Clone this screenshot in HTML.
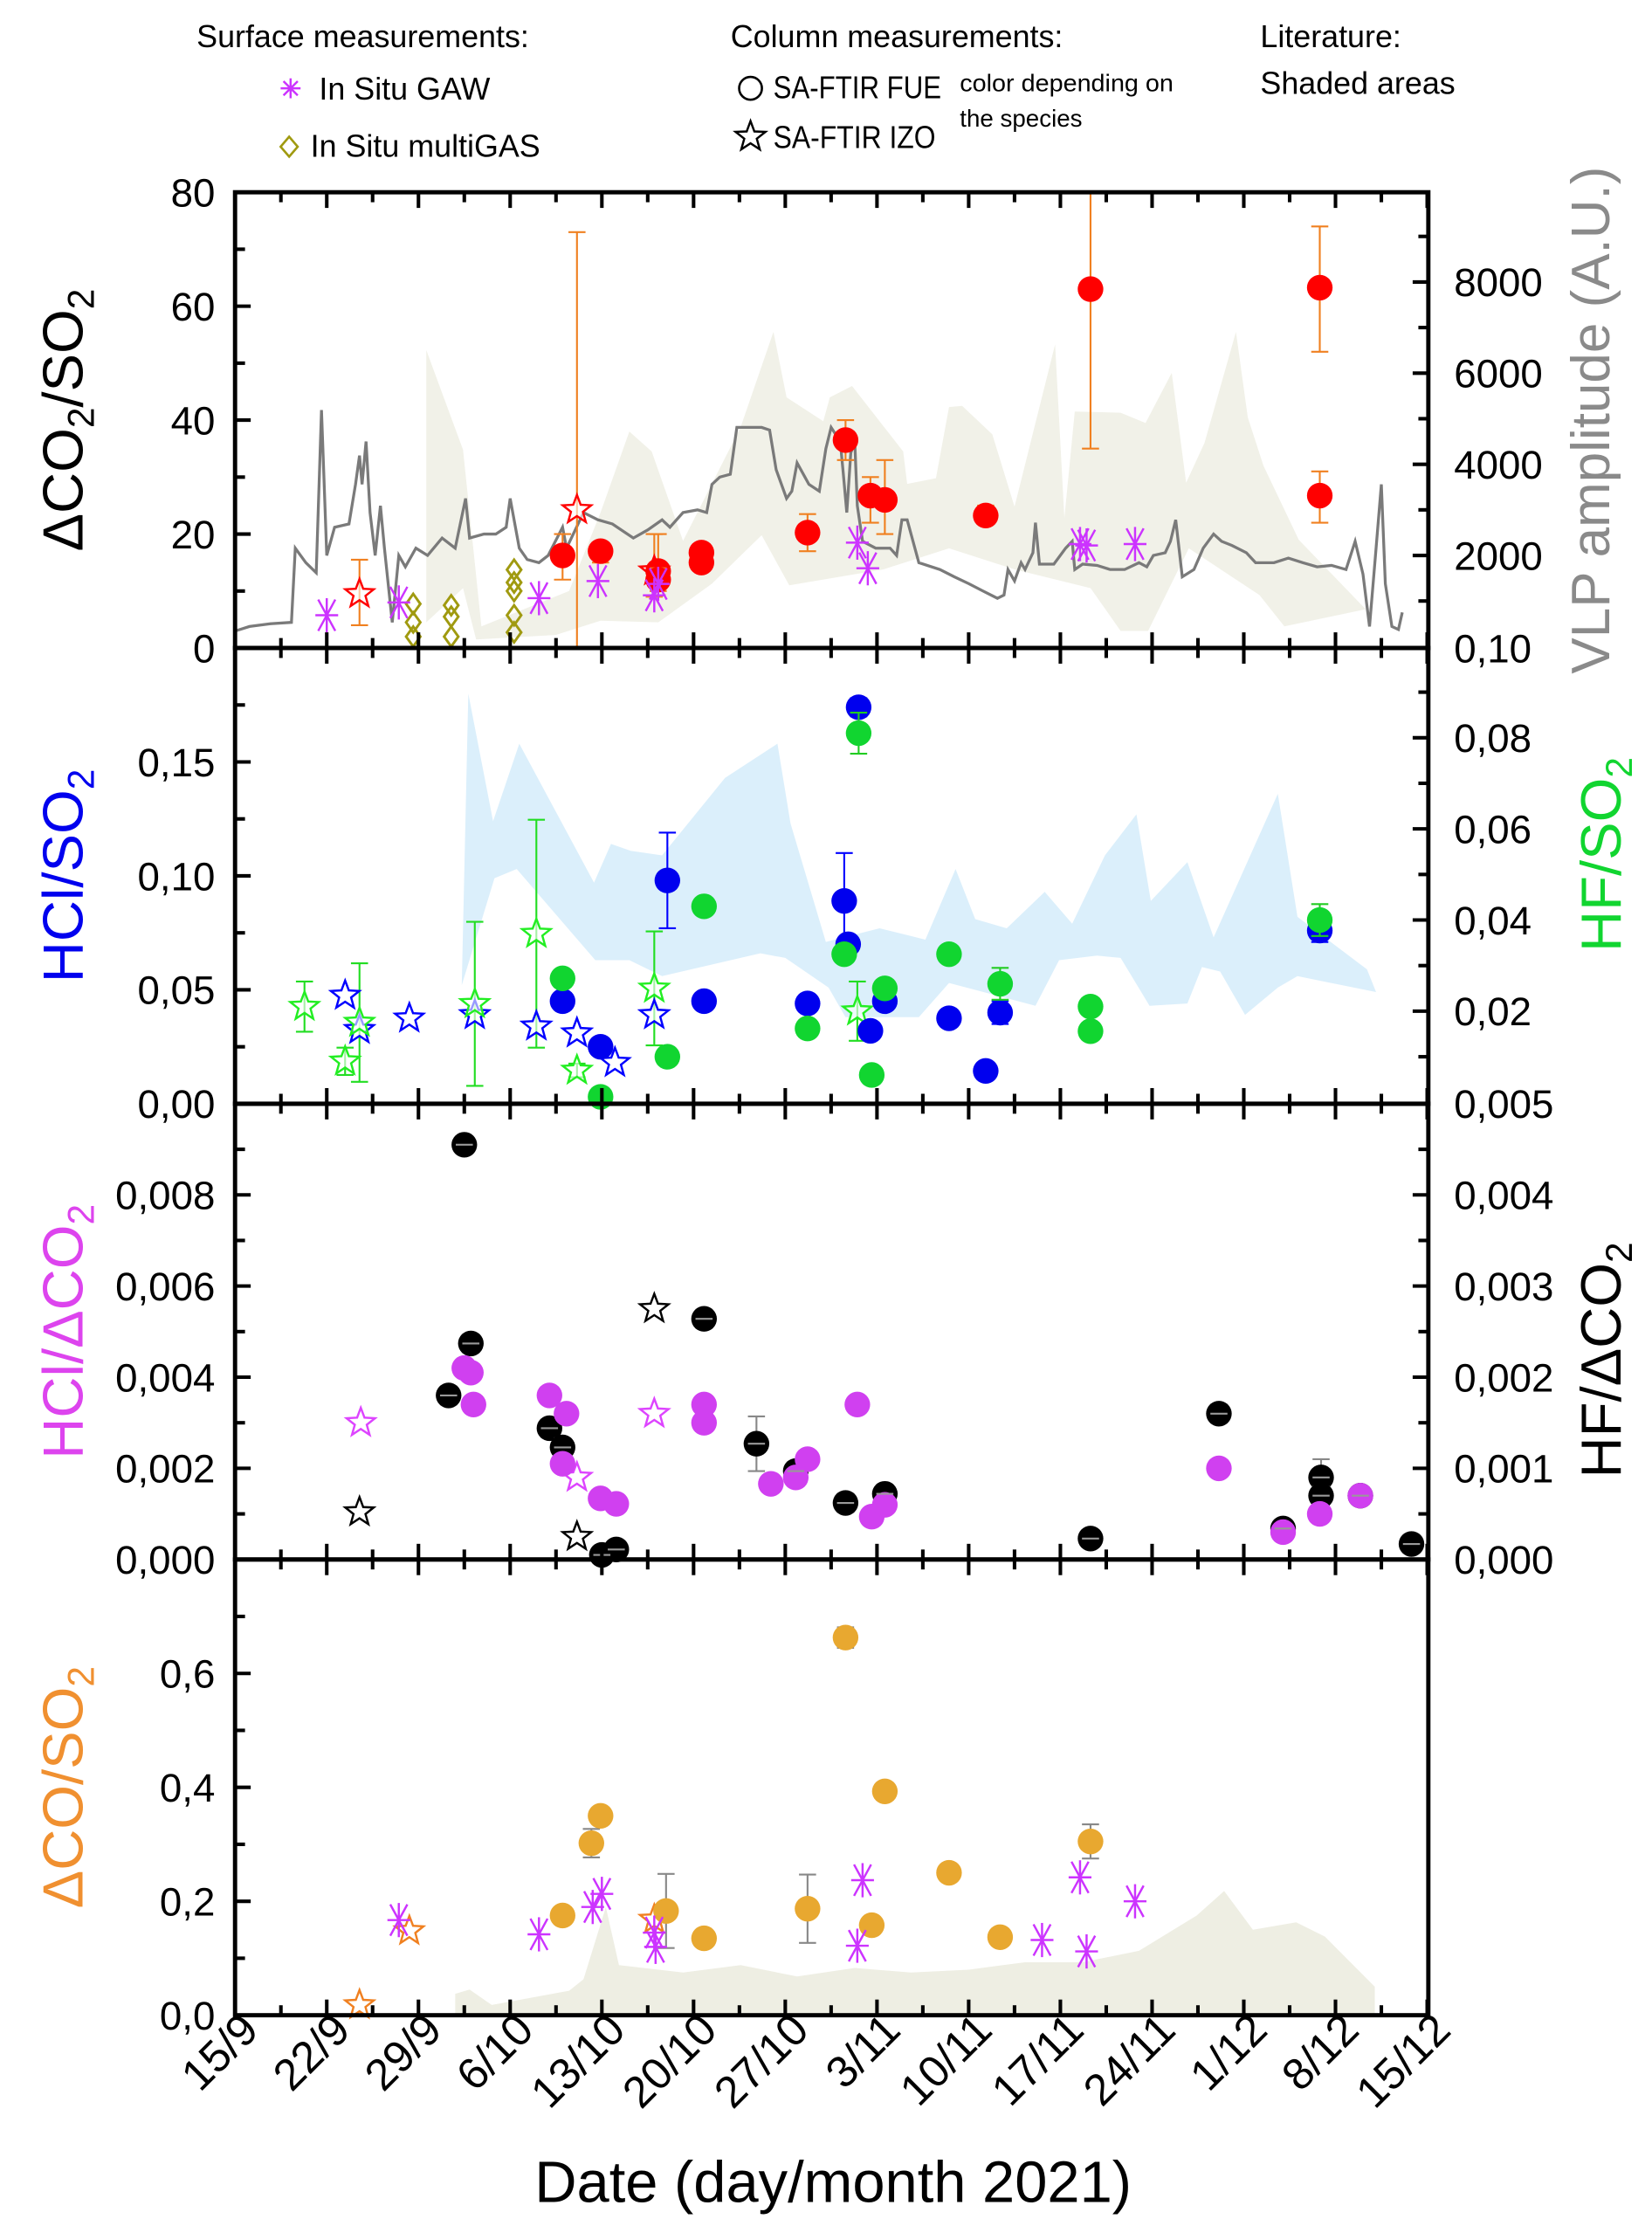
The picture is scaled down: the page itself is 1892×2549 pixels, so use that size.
<!DOCTYPE html>
<html><head><meta charset="utf-8">
<style>
html,body{margin:0;padding:0;background:#fff;}
svg{display:block;font-family:"Liberation Sans",Arial,sans-serif;}
</style></head>
<body>
<svg id="chart" xmlns="http://www.w3.org/2000/svg" width="1892" height="2549" viewBox="0 0 1160 1563">
<g id="legend" font-size="22">
  <text x="138" y="33">Surface measurements:</text>
  <g>
    <g stroke="#cc33ff" stroke-width="1.5"><line x1="204" y1="55" x2="204" y2="69"/><line x1="197" y1="62" x2="211" y2="62"/><line x1="199" y1="57" x2="209" y2="67"/><line x1="209" y1="57" x2="199" y2="67"/></g>
    <text x="224" y="70">In Situ GAW</text>
  </g>
  <g>
    <path d="M203,96 L209,103 L203,110 L197,103 Z" fill="none" stroke="#a09a10" stroke-width="1.6"/>
    <text x="218" y="110">In Situ multiGAS</text>
  </g>
  <text x="513" y="33">Column measurements:</text>
  <g>
    <circle cx="527" cy="62" r="8" fill="none" stroke="#000" stroke-width="1.6"/>
    <text x="543" y="69" textLength="118" lengthAdjust="spacingAndGlyphs">SA-FTIR FUE</text>
  </g>
  <g>
    <path id="legstar" fill="none" stroke="#000" stroke-width="1.5" d=""/>
    <text x="543" y="104" textLength="114" lengthAdjust="spacingAndGlyphs">SA-FTIR IZO</text>
  </g>
  <text x="674" y="64" font-size="17" textLength="150" lengthAdjust="spacingAndGlyphs">color depending on</text>
  <text x="674" y="89" font-size="17">the species</text>
  <text x="885" y="33">Literature:</text>
  <text x="885" y="66">Shaded areas</text>
</g>
<g id="layer-shade"></g>
<g id="layer-line"></g>
<g id="layer-marks"></g>
<g id="layer-axes"></g>
</svg>
<script>
// ---------- DATA ----------
const xTickLabels = ["15/9","22/9","29/9","6/10","13/10","20/10","27/10","3/11","10/11","17/11","24/11","1/12","8/12","15/12"];
// Panel 1 : VLP amplitude (grey line)
const vlpDays = [0,1.1,2.7,4.3,4.6,5.4,6.2,6.6,7.0,7.6,8.7,9.2,9.5,9.7,10.0,10.3,10.7,11.1,11.4,12.0,12.5,13.0,13.8,14.7,15.8,16.8,17.6,17.9,19.0,19.9,20.7,21.0,21.7,22.3,23.2,23.9,25.0,25.3,26.6,27.7,28.8,30.4,31.5,32.6,33.2,34.2,35.3,36.0,36.4,37.0,37.8,38.3,40.2,40.8,41.3,42.1,42.5,42.9,43.5,43.8,44.6,45.1,45.5,46.2,46.4,46.7,47.0,47.3,47.5,47.9,48.9,50.0,50.5,50.9,51.3,52.2,53.8,54.9,56.0,57.1,58.2,58.7,59.0,59.5,60.0,60.3,60.9,61.1,61.4,62.5,63.4,63.9,64.1,64.7,65.8,66.8,67.9,69.0,69.6,70.1,71.0,71.4,71.8,72.3,73.2,73.9,74.7,75.3,76.1,77.2,77.9,79.3,80.4,81.5,82.6,83.7,84.8,85.5,86.1,86.6,87.1,87.5,87.8,88.3,88.8,89.1];
const vlpValues = [340,440,500,530,2160,1840,1620,5190,2000,2620,2690,3560,4190,3560,4500,2940,2000,3090,2160,530,2000,1750,2160,2000,2380,2160,3250,2380,2470,2470,2620,3250,2160,1910,1840,2000,2620,2160,2940,2780,2690,2380,2560,2780,2620,2940,3000,2940,3560,3720,3780,4810,4810,4750,3880,3250,3410,4030,3720,3560,3410,4340,4810,4500,3880,2940,4250,4500,3090,2310,2160,2160,2000,2780,2780,1840,1690,1530,1380,1220,1060,1130,1690,1440,1840,1690,2060,2720,1810,1810,2160,2310,1690,1810,1780,1690,1690,1840,1750,2000,2060,2310,2780,1530,1690,2160,2470,2310,2220,2060,1840,1840,1940,1840,1750,1780,1690,2310,1590,440,2160,3560,1380,440,375,750];
// Panel 1 : literature shade (deltaCO2/SO2)
const shadeTopDays = [14.6,17.4,18.8,25.5,27.9,30.1,31.8,34.2,38.6,41.1,42.1,44.9,45.4,47.1,51.0,51.3,53.5,54.5,55.5,57.8,59.5,62.6,63.3,64.1,67.6,69.5,71.5,72.6,74.0,76.4,77.3,78.5,81.2,86.3,80.1,78.2,72.8,69.7,67.6,65.3,59.5,54.5,49.5,42.3,40.2,36.4,32.3,27.9,24.5,18.4,17.4,14.6];
const shadeTopValues = [52.3,34.8,3.8,10,23.8,38,34.5,18.8,38.8,55.5,44,39.8,44,46,34.5,28.8,29.8,42.3,42.5,37.5,24.8,53.3,22.8,41.5,41.3,39.5,48.3,29,36,55.5,40.5,32,19,6.8,3.8,9.3,17.5,3,3,10.5,13.8,17.5,13.8,11,19.8,11.3,4.5,4.8,2.3,1.5,10.5,4.5];
// Panel 1 points
const co2FueDays = [25,27.9,32.3,32.3,35.6,35.6,43.7,46.6,48.5,49.6,57.3,65.3,82.8,82.8];
const co2FueVals = [16.25,17,13.5,12,16.75,15,20.25,36.5,26.75,26,23.25,63,63.25,26.75];
const co2FueLo = [12,15,11,10,14,13.5,17,33,22,20,22,35,52,22];
const co2FueHi = [20,18.5,20,14,18,16,23.5,40,30,33,25,80,74,31];
const co2IzoDays = [9.5,26.1,32.0];
const co2IzoVals = [9.5,24.25,13.5];
const co2IzoLo = [4,0,9];
const co2IzoHi = [15.5,73,20];
const co2GawDays = [7,12.5,23.2,27.7,32,32.3,47.5,48.3,64.5,65,68.7];
const co2GawVals = [5.75,8,8.75,11.75,9.25,11.25,18.5,14,18.25,18,18.25];
const co2MgDays = [13.6,13.6,13.6,16.5,16.5,16.5,21.3,21.3,21.3,21.3,21.3];
const co2MgVals = [7.75,4.5,2,7.5,5.5,2,13.75,11.5,10,5.75,2.75];
// Panel 2 : literature shade (HCl/SO2)
const shadeHclDays = [17.8,19.7,21.7,27.4,28.7,30.2,32.6,37.4,41.4,42.4,45.1,49.2,51.3,52.7,55.0,56.5,58.9,61.8,63.9,66.4,68.8,69.9,72.7,74.7,79.6,81.1,86.4,87.1,81.1,79.6,77.1,75.2,73.8,72.7,69.8,67.6,65.8,62.9,61.1,54.5,52.2,46.6,45.3,42.0,40.1,32.6,30.1,27.5,21.5,19.8,17.3];
const shadeHclValues = [0.180,0.124,0.158,0.097,0.114,0.111,0.109,0.143,0.158,0.123,0.071,0.077,0.074,0.072,0.103,0.081,0.077,0.093,0.079,0.109,0.127,0.089,0.106,0.073,0.136,0.082,0.059,0.049,0.056,0.051,0.039,0.058,0.060,0.044,0.043,0.064,0.065,0.063,0.043,0.053,0.038,0.038,0.051,0.064,0.066,0.056,0.063,0.063,0.103,0.099,0.052];
const hclFueDays = [25,27.9,33,35.8,43.7,46.5,46.8,47.6,48.5,49.6,54.5,57.3,58.4,82.8];
const hclFueVals = [0.045,0.025,0.098,0.045,0.044,0.089,0.070,0.174,0.032,0.045,0.0375,0.0144,0.040,0.076];
const hclFueErr = [0,0,0.021,0,0,0.021,0,0.004,0,0,0,0,0.005,0.005];
const hclIzoDays = [8.4,9.5,13.3,18.3,23,26.1,29,32];
const hclIzoVals = [0.0475,0.0325,0.0375,0.039,0.034,0.031,0.018,0.039];
const hfFueDays = [25,27.9,33,35.8,43.7,46.5,47.6,48.6,49.6,54.5,58.4,65.3,65.3,82.8];
const hfFueVals = [0.0272,0.0012,0.010,0.043,0.0162,0.0325,0.081,0.006,0.025,0.0325,0.026,0.021,0.0156,0.040];
const hfFueErr = [0,0,0,0,0,0,0.0045,0,0,0,0.0035,0,0.0008,0.0035];
const hfIzoDays = [5.3,8.4,9.5,18.3,23,26.1,32,47.5];
const hfIzoVals = [0.021,0.009,0.0175,0.0216,0.037,0.007,0.025,0.020];
const hfIzoErr = [0.0055,0.003,0.013,0.018,0.025,0.0015,0.0125,0.0065];
// Panel 3
const hclCo2FueDays = [17.5,18.0,18.2,24,25,25.3,27.9,29.1,35.8,35.8,40.9,42.8,43.7,47.5,48.6,49.6,75.1,80,82.8,85.9];
const hclCo2FueVals = [0.0042,0.0041,0.0034,0.0036,0.0021,0.0032,0.00134,0.00122,0.0034,0.0030,0.00166,0.0018,0.0022,0.0034,0.00094,0.0012,0.0020,0.0006,0.0010,0.0014];
const hclCo2IzoDays = [9.6,26.1,32];
const hclCo2IzoVals = [0.0030,0.0018,0.0032];
const hfCo2FueDays = [16.3,17.5,18.0,24,25,28.0,29.1,35.8,39.8,42.8,46.6,49.6,65.3,75.1,80,82.9,82.9,85.9,89.8];
const hfCo2FueVals = [0.0018,0.00455,0.00237,0.00144,0.00123,0.00005,0.00011,0.00264,0.00127,0.00097,0.00062,0.00072,0.00023,0.0016,0.00034,0.0009,0.0007,0.0007,0.00017];
const hfCo2FueErr = [0.0001,0.00005,0.0001,0.0001,0.0001,0,0,0.0001,0.0003,0.0001,0.0001,0.0001,0,0.0001,0,0.0002,0.0001,0,0];
const hfCo2IzoDays = [9.5,26.1,32];
const hfCo2IzoVals = [0.00052,0.00025,0.00275];
// Panel 4
const shadeCoDays = [16.8,17.9,19.6,25.5,26.6,28.3,29.3,34.2,38.6,42.9,47.3,51.6,56,60.3,64.7,69,73.4,75.5,77.7,81,83.2,87];
const shadeCoValues = [0.0375,0.045,0.018,0.043,0.063,0.19,0.088,0.075,0.088,0.068,0.083,0.075,0.08,0.093,0.093,0.113,0.175,0.218,0.15,0.163,0.138,0.05];
const coFueDays = [25,27.2,27.9,32.9,35.8,43.7,46.6,48.6,49.6,54.5,58.4,65.3];
const coFueVals = [0.175,0.302,0.35,0.183,0.135,0.187,0.663,0.158,0.393,0.25,0.137,0.305];
const coFueErr = [0.01,0.025,0.015,0.065,0.01,0.06,0.018,0.01,0.015,0.008,0.015,0.03];
const coIzoDays = [9.5,13.3,32];
const coIzoVals = [0.018,0.148,0.168];
const coGawDays = [12.5,23.2,27.3,28,32.1,32,47.5,47.9,61.6,64.5,65,68.7];
const coGawVals = [0.167,0.142,0.19,0.213,0.12,0.145,0.122,0.237,0.132,0.242,0.112,0.2];

// ---------- SCALES ----------
const X0 = 165, X1 = 1003, PXD = 9.2;
function xs(d){ return X0 + d*PXD; }
const y1L = v => 455 - v*4;
const y1R = v => 454 - v/31.25;
const y2L = v => 775 - v*1600;
const y2R = v => 774 - v*3200;
const y3L = v => 1095 - v*32000;
const y3R = v => 1095 - v*64000;
const y4L = v => 1415 - v*400;

const NS = "http://www.w3.org/2000/svg";
const L = {
  shade: document.getElementById('layer-shade'),
  line: document.getElementById('layer-line'),
  marks: document.getElementById('layer-marks'),
  axes: document.getElementById('layer-axes')
};
function mk(parent, tag, attrs, name){
  const el = document.createElementNS(NS, tag);
  for (const k in attrs) el.setAttribute(k, attrs[k]);
  
  
  parent.appendChild(el);
  return el;
}
function starPath(cx, cy, r){
  let p = "";
  for (let i=0;i<10;i++){
    const a = -Math.PI/2 + i*Math.PI/5;
    const rr = i%2===0 ? r : r*0.42;
    p += (i===0?"M":"L") + (cx+rr*Math.cos(a)).toFixed(1) + "," + (cy+rr*Math.sin(a)).toFixed(1);
  }
  return p + "Z";
}
document.getElementById('legstar').setAttribute('d', starPath(527, 96, 11));

function polyPts(days, vals, ys){
  return days.map((d,i)=> xs(d).toFixed(1)+","+ys(vals[i]).toFixed(1)).join(" ");
}
// Shades
mk(L.shade,'polygon',{points:polyPts(shadeTopDays,shadeTopValues,y1L),fill:'#f1f1e8'},'literature-shade-co2');
mk(L.shade,'polygon',{points:polyPts(shadeHclDays,shadeHclValues,y2L),fill:'#dbeffb'},'literature-shade-hcl');
{
  const pts = polyPts(shadeCoDays,shadeCoValues,y4L) + " " + xs(shadeCoDays[shadeCoDays.length-1]).toFixed(1)+",1415 "+xs(shadeCoDays[0]).toFixed(1)+",1415";
  mk(L.shade,'polygon',{points:pts,fill:'#eeeee3'},'literature-shade-co');
}
// VLP line
mk(L.line,'polyline',{points:polyPts(vlpDays,vlpValues,y1R),fill:'none',stroke:'#7a7a7a','stroke-width':2},'vlp-amplitude-line');

// Mark helpers
function errBar(x, yl, yh, color, name){
  const g = mk(L.marks,'g',{stroke:color,'stroke-width':1.3},name);
  mk(g,'line',{x1:x,y1:yl,x2:x,y2:yh},'error-bar-line');
  mk(g,'line',{x1:x-6,y1:yl,x2:x+6,y2:yl},'error-bar-cap');
  mk(g,'line',{x1:x-6,y1:yh,x2:x+6,y2:yh},'error-bar-cap');
}
function circle(x,y,color,name){ mk(L.marks,'circle',{cx:x,cy:y,r:9,fill:color},name); }
function star(x,y,color,name){ mk(L.marks,'path',{d:starPath(x,y,10.5),fill:'#fff','fill-opacity':0.6,stroke:color,'stroke-width':1.5},name); }
function asterisk(x,y,color,name){
  const g = mk(L.marks,'g',{stroke:color,'stroke-width':1.5},name);
  mk(g,'line',{x1:x,y1:y-12,x2:x,y2:y+12},'asterisk-arm');
  mk(g,'line',{x1:x-8,y1:y,x2:x+8,y2:y},'asterisk-arm');
  mk(g,'line',{x1:x-6,y1:y-11,x2:x+6,y2:y+11},'asterisk-arm');
  mk(g,'line',{x1:x+6,y1:y-11,x2:x-6,y2:y+11},'asterisk-arm');
}
function diamond(x,y,color,name){ mk(L.marks,'path',{d:`M${x},${y-7}L${x+5},${y}L${x},${y+7}L${x-5},${y}Z`,fill:'none',stroke:color,'stroke-width':1.8},name); }

// Panel 1
co2MgDays.forEach((d,i)=>diamond(xs(d),y1L(co2MgVals[i]),'#a09a10','multigas-point'));
co2IzoDays.forEach((d,i)=>{ errBar(xs(d),y1L(co2IzoLo[i]),y1L(co2IzoHi[i]),'#f08020','co2-izo-error'); star(xs(d),y1L(co2IzoVals[i]),'#ff0000','co2-izo-point'); });
co2FueDays.forEach((d,i)=>{ errBar(xs(d),y1L(co2FueLo[i]),y1L(co2FueHi[i]),'#f08020','co2-fue-error'); circle(xs(d),y1L(co2FueVals[i]),'#ff0000','co2-fue-point'); });
co2GawDays.forEach((d,i)=>asterisk(xs(d),y1L(co2GawVals[i]),'#cc33ff','co2-gaw-point'));

// Panel 2
hfIzoDays.forEach((d,i)=>{ errBar(xs(d),y2R(hfIzoVals[i]-hfIzoErr[i]),y2R(hfIzoVals[i]+hfIzoErr[i]),'#22dd22','hf-izo-error'); });
hclIzoDays.forEach((d,i)=>star(xs(d),y2L(hclIzoVals[i]),'#0000ff','hcl-izo-point'));
hfIzoDays.forEach((d,i)=>star(xs(d),y2R(hfIzoVals[i]),'#22ee22','hf-izo-point'));
hclFueDays.forEach((d,i)=>{ if(hclFueErr[i]>0) errBar(xs(d),y2L(hclFueVals[i]-hclFueErr[i]),y2L(hclFueVals[i]+hclFueErr[i]),'#0000ff','hcl-fue-error'); circle(xs(d),y2L(hclFueVals[i]),'#0000ee','hcl-fue-point'); });
hfFueDays.forEach((d,i)=>{ if(hfFueErr[i]>0) errBar(xs(d),y2R(hfFueVals[i]-hfFueErr[i]),y2R(hfFueVals[i]+hfFueErr[i]),'#22cc22','hf-fue-error'); circle(xs(d),y2R(hfFueVals[i]),'#11d530','hf-fue-point'); });

// Panel 3
hclCo2IzoDays.forEach((d,i)=>star(xs(d),y3L(hclCo2IzoVals[i]),'#dd44ff','hcl-co2-izo-point'));
hfCo2IzoDays.forEach((d,i)=>star(xs(d),y3R(hfCo2IzoVals[i]),'#000','hf-co2-izo-point'));
hfCo2FueDays.forEach((d,i)=>{ if(hfCo2FueErr[i]>0) errBar(xs(d),y3R(hfCo2FueVals[i]-hfCo2FueErr[i]),y3R(hfCo2FueVals[i]+hfCo2FueErr[i]),'#888','hf-co2-fue-error'); circle(xs(d),y3R(hfCo2FueVals[i]),'#000','hf-co2-fue-point'); });
hclCo2FueDays.forEach((d,i)=>circle(xs(d),y3L(hclCo2FueVals[i]),'#d040f0','hcl-co2-fue-point'));
hfCo2FueDays.forEach((d,i)=>mk(L.marks,'line',{x1:xs(d)-6,y1:y3R(hfCo2FueVals[i]),x2:xs(d)+6,y2:y3R(hfCo2FueVals[i]),stroke:'#999','stroke-width':1.3},'hf-co2-cap'));

// Panel 4
coIzoDays.forEach((d,i)=>star(xs(d),y4L(coIzoVals[i]),'#f08020','co-izo-point'));
coFueDays.forEach((d,i)=>{ errBar(xs(d),y4L(coFueVals[i]-coFueErr[i]),y4L(coFueVals[i]+coFueErr[i]),'#888','co-fue-error'); circle(xs(d),y4L(coFueVals[i]),'#e8a830','co-fue-point'); });
coGawDays.forEach((d,i)=>asterisk(xs(d),y4L(coGawVals[i]),'#cc33ff','co-gaw-point'));

// ---------- AXES ----------
const panels = [{t:135,b:455},{t:455,b:775},{t:775,b:1095},{t:1095,b:1415}];
panels.forEach((p,pi)=>{
  mk(L.axes,'rect',{x:X0,y:p.t,width:X1-X0,height:p.b-p.t,fill:'none',stroke:'#000','stroke-width':3},'panel-frame-'+(pi+1));
  for (let k=0;k<=26;k++){
    const d = k*3.5, x = xs(d);
    if (x > X1) break;
    const len = k%2===0 ? 11 : 7;
    mk(L.axes,'line',{x1:x,y1:p.b,x2:x,y2:p.b-len,stroke:'#000','stroke-width':2.5},'x-tick');
    mk(L.axes,'line',{x1:x,y1:p.t,x2:x,y2:p.t+len,stroke:'#000','stroke-width':2.5},'x-tick');
  }
});
xTickLabels.forEach((lab,i)=>{
  const x = xs(i*7);
  const t = mk(L.axes,'text',{x:x+18,y:1427,'font-size':31,'text-anchor':'end',transform:`rotate(-45 ${x+18} 1427)`},'x-tick-label');
  t.textContent = lab;
});
function yAxis(side, fn, vals, labels, minorVals, name){
  const xa = side==='L' ? X0 : X1;
  const dir = side==='L' ? 1 : -1;
  vals.forEach((v,i)=>{
    const y = fn(v);
    mk(L.axes,'line',{x1:xa,y1:y,x2:xa+dir*11,y2:y,stroke:'#000','stroke-width':2.5},name+'-tick');
    if (labels[i] !== null){
      const t = mk(L.axes,'text',{x: side==='L'? xa-14 : xa+18, y:y+10,'font-size':28,'text-anchor': side==='L'?'end':'start'},name+'-label');
      t.textContent = labels[i];
    }
  });
  minorVals.forEach(v=>{
    const y = fn(v);
    mk(L.axes,'line',{x1:xa,y1:y,x2:xa+dir*7,y2:y,stroke:'#000','stroke-width':2.5},name+'-minor-tick');
  });
}
yAxis('L', y1L, [0,20,40,60,80], ["0","20","40","60","80"], [10,30,50,70], 'co2-y-axis');
yAxis('R', y1R, [2000,4000,6000,8000], ["2000","4000","6000","8000"], [1000,3000,5000,7000,9000], 'vlp-y-axis');
yAxis('L', y2L, [0,0.05,0.10,0.15], ["0,00","0,05","0,10","0,15"], [0.025,0.075,0.125,0.175], 'hcl-y-axis');
yAxis('R', y2R, [0.02,0.04,0.06,0.08], ["0,02","0,04","0,06","0,08"], [0.01,0.03,0.05,0.07,0.09], 'hf-y-axis');
yAxis('L', y3L, [0,0.002,0.004,0.006,0.008], ["0,000","0,002","0,004","0,006","0,008"], [0.001,0.003,0.005,0.007,0.009], 'hcl-co2-y-axis');
yAxis('R', y3R, [0.001,0.002,0.003,0.004], ["0,001","0,002","0,003","0,004"], [0.0005,0.0015,0.0025,0.0035,0.0045], 'hf-co2-y-axis');
yAxis('L', y4L, [0,0.2,0.4,0.6], ["0,0","0,2","0,4","0,6"], [0.1,0.3,0.5,0.7], 'co-y-axis');
[["0,10",465],["0,005",785],["0,000",1105]].forEach(a=>{
  const t = mk(L.axes,'text',{x:X1+18,y:a[1],'font-size':28},'right-axis-zero-label');
  t.textContent = a[0];
});

// Axis titles
function vtitle(x, y, color, html, name, size){
  const t = mk(L.axes,'text',{x:x,y:y,fill:color,'font-size':size||40,'text-anchor':'middle',transform:`rotate(-90 ${x} ${y})`},name);
  t.innerHTML = html;
}
vtitle(58,295,'#000','ΔCO<tspan font-size="26" dy="8">2</tspan><tspan dy="-8">/SO</tspan><tspan font-size="26" dy="8">2</tspan>','co2-y-axis-title');
vtitle(58,615,'#0000ee','HCl/SO<tspan font-size="26" dy="8">2</tspan>','hcl-y-axis-title');
vtitle(58,935,'#dd44ee','HCl/ΔCO<tspan font-size="26" dy="8">2</tspan>','hcl-co2-y-axis-title');
vtitle(58,1255,'#f09030','ΔCO/SO<tspan font-size="26" dy="8">2</tspan>','co-y-axis-title');
vtitle(1130,295,'#8a8a8a','VLP amplitude (A.U.)','vlp-y-axis-title',38);
vtitle(1138,600,'#11d530','HF/SO<tspan font-size="26" dy="8">2</tspan>','hf-y-axis-title');
vtitle(1138,955,'#000','HF/ΔCO<tspan font-size="26" dy="8">2</tspan>','hf-co2-y-axis-title');
{
  const t = mk(L.axes,'text',{x:585,y:1546,'font-size':41,'text-anchor':'middle'},'x-axis-title');
  t.textContent = "Date (day/month 2021)";
}
</script>
</body></html>
